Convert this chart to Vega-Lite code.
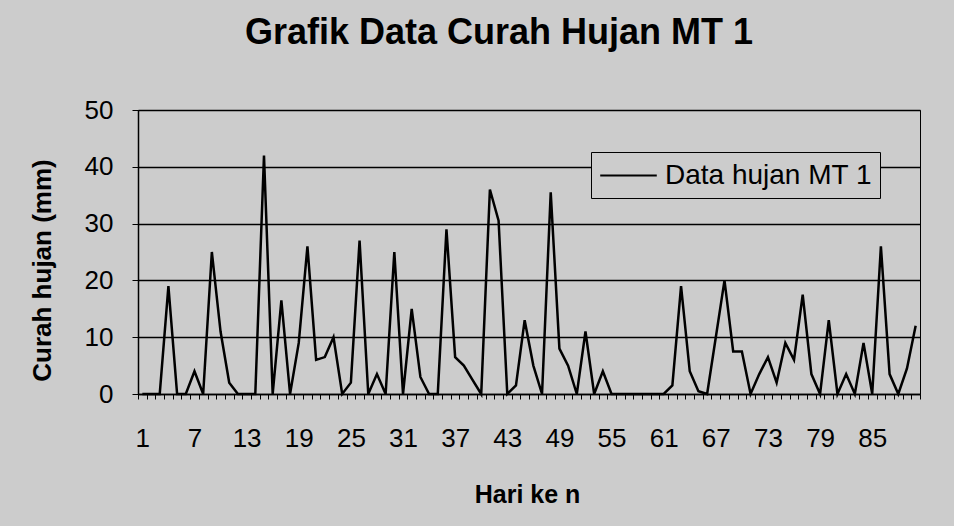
{
  "$schema": "https://vega.github.io/schema/vega-lite/v6.json",
  "width": 782,
  "height": 284,
  "autosize": "none",
  "padding": {"left": 138, "top": 110, "right": 34, "bottom": 132},
  "background": "#cccccc",
  "config": {
    "view": {"stroke": "black", "strokeWidth": 1, "fill": "#cccccc"},
    "font": "Liberation Sans"
  },
  "title": {
    "text": "Grafik Data Curah Hujan MT 1",
    "fontSize": 36,
    "fontWeight": "bold",
    "font": "Liberation Sans",
    "color": "black",
    "anchor": "middle",
    "dx": -30,
    "offset": 45
  },
  "data": {
    "values": [
      {"hari": 1, "curah": 0}, {"hari": 2, "curah": 0}, {"hari": 3, "curah": 0},
      {"hari": 4, "curah": 19}, {"hari": 5, "curah": 0}, {"hari": 6, "curah": 0},
      {"hari": 7, "curah": 4}, {"hari": 8, "curah": 0}, {"hari": 9, "curah": 25},
      {"hari": 10, "curah": 11}, {"hari": 11, "curah": 2}, {"hari": 12, "curah": 0},
      {"hari": 13, "curah": 0}, {"hari": 14, "curah": 0}, {"hari": 15, "curah": 42},
      {"hari": 16, "curah": 0}, {"hari": 17, "curah": 16.5}, {"hari": 18, "curah": 0},
      {"hari": 19, "curah": 9}, {"hari": 20, "curah": 26}, {"hari": 21, "curah": 6},
      {"hari": 22, "curah": 6.5}, {"hari": 23, "curah": 10}, {"hari": 24, "curah": 0},
      {"hari": 25, "curah": 2}, {"hari": 26, "curah": 27}, {"hari": 27, "curah": 0},
      {"hari": 28, "curah": 3.5}, {"hari": 29, "curah": 0}, {"hari": 30, "curah": 25},
      {"hari": 31, "curah": 0}, {"hari": 32, "curah": 15}, {"hari": 33, "curah": 3},
      {"hari": 34, "curah": 0}, {"hari": 35, "curah": 0}, {"hari": 36, "curah": 29},
      {"hari": 37, "curah": 6.5}, {"hari": 38, "curah": 5}, {"hari": 39, "curah": 2.5},
      {"hari": 40, "curah": 0}, {"hari": 41, "curah": 36}, {"hari": 42, "curah": 30.5},
      {"hari": 43, "curah": 0}, {"hari": 44, "curah": 1.5}, {"hari": 45, "curah": 13},
      {"hari": 46, "curah": 5}, {"hari": 47, "curah": 0}, {"hari": 48, "curah": 35.5},
      {"hari": 49, "curah": 8}, {"hari": 50, "curah": 5}, {"hari": 51, "curah": 0},
      {"hari": 52, "curah": 11}, {"hari": 53, "curah": 0}, {"hari": 54, "curah": 4},
      {"hari": 55, "curah": 0}, {"hari": 56, "curah": 0}, {"hari": 57, "curah": 0},
      {"hari": 58, "curah": 0}, {"hari": 59, "curah": 0}, {"hari": 60, "curah": 0},
      {"hari": 61, "curah": 0}, {"hari": 62, "curah": 1.5}, {"hari": 63, "curah": 19},
      {"hari": 64, "curah": 4}, {"hari": 65, "curah": 0.5}, {"hari": 66, "curah": 0},
      {"hari": 67, "curah": 10}, {"hari": 68, "curah": 20}, {"hari": 69, "curah": 7.5},
      {"hari": 70, "curah": 7.5}, {"hari": 71, "curah": 0}, {"hari": 72, "curah": 3.5},
      {"hari": 73, "curah": 6.5}, {"hari": 74, "curah": 2}, {"hari": 75, "curah": 9},
      {"hari": 76, "curah": 6}, {"hari": 77, "curah": 17.5}, {"hari": 78, "curah": 3.5},
      {"hari": 79, "curah": 0}, {"hari": 80, "curah": 13}, {"hari": 81, "curah": 0},
      {"hari": 82, "curah": 3.5}, {"hari": 83, "curah": 0}, {"hari": 84, "curah": 9},
      {"hari": 85, "curah": 0}, {"hari": 86, "curah": 26}, {"hari": 87, "curah": 3.5},
      {"hari": 88, "curah": 0}, {"hari": 89, "curah": 4.5}, {"hari": 90, "curah": 12}
    ]
  },
  "mark": {"type": "line", "strokeWidth": 2.5},
  "encoding": {
    "x": {
      "field": "hari",
      "type": "quantitative",
      "scale": {"domain": [0.5, 90.5], "nice": false, "zero": false},
      "axis": {
        "values": [0.5,1.5,2.5,3.5,4.5,5.5,6.5,7.5,8.5,9.5,10.5,11.5,12.5,13.5,14.5,15.5,16.5,17.5,18.5,19.5,20.5,21.5,22.5,23.5,24.5,25.5,26.5,27.5,28.5,29.5,30.5,31.5,32.5,33.5,34.5,35.5,36.5,37.5,38.5,39.5,40.5,41.5,42.5,43.5,44.5,45.5,46.5,47.5,48.5,49.5,50.5,51.5,52.5,53.5,54.5,55.5,56.5,57.5,58.5,59.5,60.5,61.5,62.5,63.5,64.5,65.5,66.5,67.5,68.5,69.5,70.5,71.5,72.5,73.5,74.5,75.5,76.5,77.5,78.5,79.5,80.5,81.5,82.5,83.5,84.5,85.5,86.5,87.5,88.5,89.5,90.5],
        "labelExpr": "((datum.value - 0.5) % 6 == 0 && datum.value < 90) ? format(datum.value + 0.5, 'd') : ''",
        "labelOffset": 4.35,
        "labelOverlap": false,
        "labelFlush": false,
        "labelBound": false,
        "labelAlign": "center",
        "grid": false,
        "tickSize": 5,
        "tickColor": "black",
        "domainColor": "black",
        "domainWidth": 1.5,
        "labelFontSize": 26,
        "labelColor": "black",
        "labelPadding": 26,
        "title": "Hari ke n",
        "titleFontSize": 25,
        "titleFontWeight": "bold",
        "titleColor": "black",
        "titleX": 389,
        "titleY": 108,
        "titleBaseline": "alphabetic"
      }
    },
    "y": {
      "field": "curah",
      "type": "quantitative",
      "scale": {"domain": [0, 50], "nice": false},
      "axis": {
        "values": [0, 10, 20, 30, 40, 50],
        "grid": true,
        "gridColor": "black",
        "gridWidth": 1.5,
        "tickSize": 6,
        "tickColor": "black",
        "domainColor": "black",
        "domainWidth": 1.5,
        "labelFontSize": 26,
        "labelColor": "black",
        "labelPadding": 19,
        "title": "Curah hujan (mm)",
        "titleFontSize": 26,
        "titleFontWeight": "bold",
        "titleColor": "black",
        "titleX": -96,
        "titleY": 160,
        "titleAngle": -90,
        "titleBaseline": "middle",
        "titleAlign": "center"
      }
    },
    "color": {
      "datum": "Data hujan MT 1",
      "scale": {"range": ["black"]},
      "legend": {
        "orient": "none",
        "legendX": 453,
        "legendY": 42,
        "title": null,
        "strokeColor": "black",
        "fillColor": "#cccccc",
        "padding": 8,
        "symbolType": "M-2,0H2",
        "symbolStrokeWidth": 2,
        "symbolSize": 800,
        "symbolOffset": 14,
        "symbolStrokeColor": "black",
        "labelFontSize": 28,
        "labelColor": "black",
        "labelOffset": 21,
        "labelLimit": 400,
        "labelFont": "Liberation Sans"
      }
    }
  }
}
